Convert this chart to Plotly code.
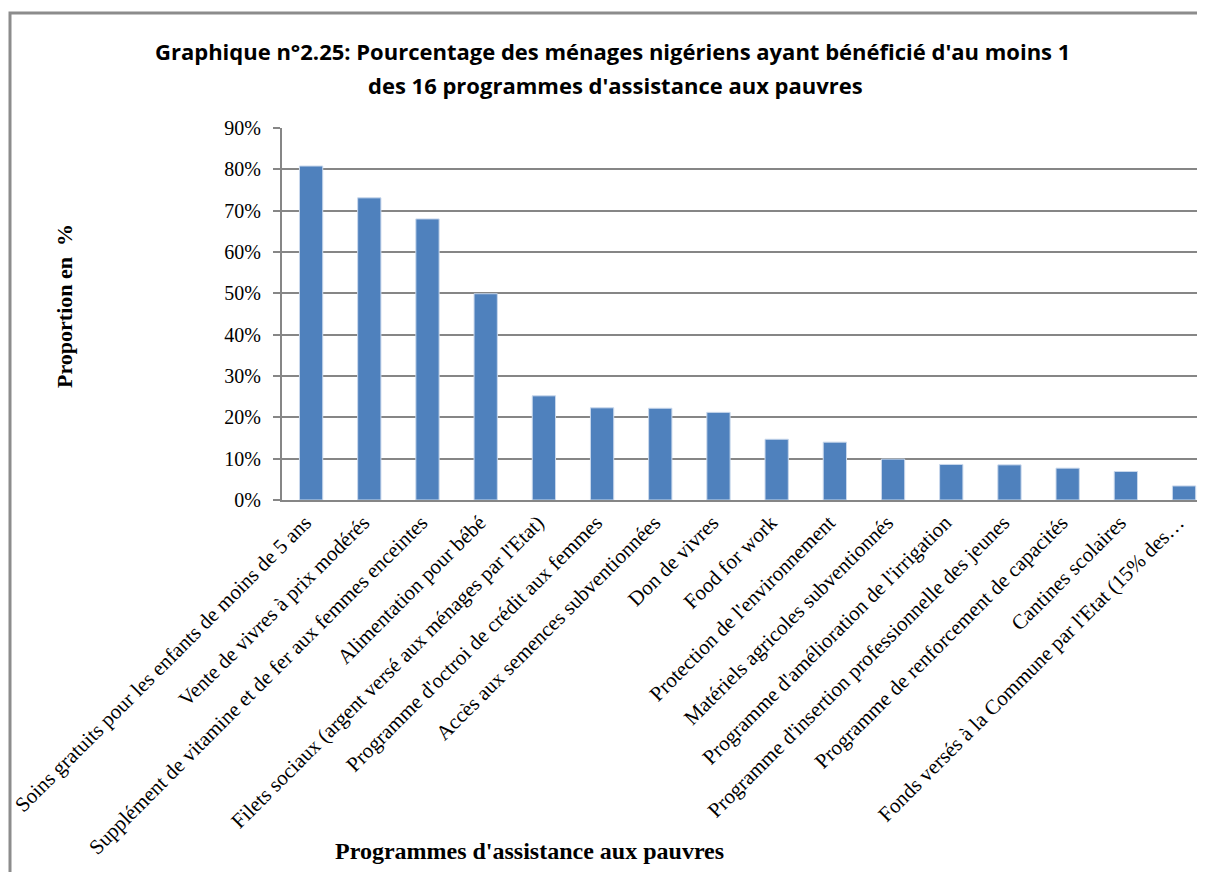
import plotly.graph_objects as go

categories = [
    "Soins gratuits pour les enfants de moins de 5 ans",
    "Vente de vivres à prix modérés",
    "Supplément de vitamine et de fer aux femmes enceintes",
    "Alimentation pour bébé",
    "Filets sociaux (argent versé aux ménages par l'Etat)",
    "Programme d'octroi de crédit aux femmes",
    "Accès aux semences subventionnées",
    "Don de vivres",
    "Food for work",
    "Protection de l'environnement",
    "Matériels agricoles subventionnés",
    "Programme d'amélioration de l'irrigation",
    "Programme d'insertion professionnelle des jeunes",
    "Programme de renforcement de capacités",
    "Cantines scolaires",
    "Fonds versés à la Commune par l'Etat (15% des…",
]
values = [0.808, 0.731, 0.680, 0.499, 0.252, 0.223, 0.222, 0.212, 0.147,
          0.140, 0.099, 0.086, 0.085, 0.077, 0.069, 0.034]

title_line1 = "Graphique n°2.25: Pourcentage des ménages nigériens ayant bénéficié d'au moins 1"
title_line2 = "des 16 programmes d'assistance aux pauvres"
x_title = "Programmes d'assistance aux pauvres"
y_title = "Proportion en  %"

OFF = 8  # page body margin
W, H = 1205 - OFF, 872 - OFF
L, T, B = 282 - OFF, 128 - OFF, 372
R = 0
pw, ph = W - L - R, H - T - B

def px2x(px):
    return (px - OFF - L) / pw

def py2y(py):
    return (H - B - (py - OFF)) / ph

fig = go.Figure(go.Bar(
    x=categories, y=values,
    marker=dict(color="#4F81BD", line=dict(color="#C9D8EC", width=1)),
    width=0.4,
))

fig.add_shape(type="rect", xref="paper", yref="paper",
              x0=px2x(10), x1=px2x(1240), y0=py2y(920), y1=py2y(13),
              line=dict(color="#8C8C8C", width=3), fillcolor="rgba(0,0,0,0)",
              layer="below")

fig.update_layout(
    width=W, height=H,
    margin=dict(l=L, r=R, t=T, b=B),
    paper_bgcolor="white", plot_bgcolor="white",
    showlegend=False,
    xaxis=dict(
        tickangle=-45, range=[-0.5, 15.36],
        tickfont=dict(family="Liberation Serif", size=21, color="black"),
        showline=True, linecolor="#868686", linewidth=2,
        ticks="", ticklabelshift=-6, ticklabelstandoff=0,
        automargin=False,
    ),
    yaxis=dict(
        range=[0, 0.9], dtick=0.1, tickformat=".0%",
        tickfont=dict(family="Liberation Serif", size=20, color="black"),
        showgrid=True, gridcolor="#868686", gridwidth=2,
        showline=True, linecolor="#868686", linewidth=2,
        ticks="outside", ticklen=7, tickcolor="#868686", tickwidth=2,
        ticklabelstandoff=8,
        automargin=False, zeroline=False,
    ),
)

title_font = dict(family="Open Sans", size=22, color="black", weight="bold")
fig.add_annotation(text=title_line1, xref="paper", yref="paper",
                   x=px2x(612), y=py2y(51), showarrow=False,
                   xanchor="center", yanchor="middle", font=title_font)
fig.add_annotation(text=title_line2, xref="paper", yref="paper",
                   x=px2x(615), y=py2y(85), showarrow=False,
                   xanchor="center", yanchor="middle", font=title_font)
fig.add_annotation(text="<b>" + x_title + "</b>", xref="paper", yref="paper",
                   x=px2x(529), y=py2y(851), showarrow=False, xanchor="center", yanchor="middle",
                   font=dict(family="Liberation Serif", size=24, color="black"))
fig.add_annotation(text="<b>" + y_title + "</b>", xref="paper", yref="paper",
                   x=px2x(64), y=py2y(306), showarrow=False, textangle=-90,
                   xanchor="center", yanchor="middle",
                   font=dict(family="Liberation Serif", size=22, color="black"))

fig.write_html("out.html")
